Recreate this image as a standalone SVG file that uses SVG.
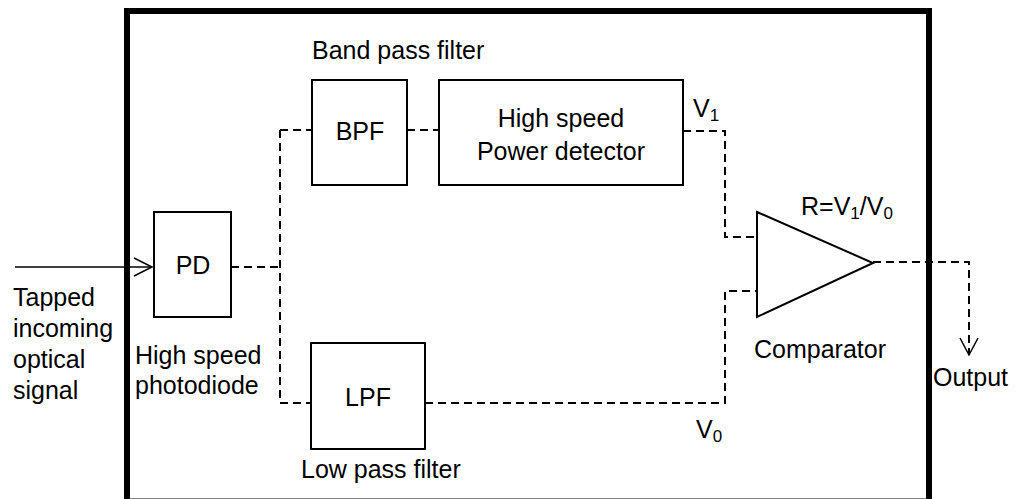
<svg xmlns="http://www.w3.org/2000/svg" width="1019" height="499" viewBox="0 0 1019 499">
<style>
.t{font-family:"Liberation Sans",Arial,sans-serif;font-size:25px;fill:#000}
.s{font-size:17px}
.box{fill:#fff;stroke:#000;stroke-width:2}
.d{fill:none;stroke:#000;stroke-width:2;stroke-dasharray:8 5}
.sol{fill:none;stroke:#000;stroke-width:1.5}
</style>
<rect width="1019" height="499" fill="#fff"/>
<g id="enclosure"><rect x="127" y="11" width="802" height="490.5" fill="none" stroke="#000" stroke-width="6"/></g>
<g id="connectors">
<path class="d" d="M231,267 H280 M280,130 V403 M280,130 H312 M280,403 H311 M407,130 H439 M683,131 H725 V237 H757 M425,403 H725 V291 H757 M873,262 H969 V354"/>
<path class="sol" d="M15,267 H152"/>
<path class="sol" d="M134,258 L152,267 L134,276"/>
<path class="sol" d="M960,338 L969,355 L978,338"/>
</g>
<g id="pd"><rect class="box" x="154" y="212" width="77" height="105"/><text class="t" x="193" y="274" text-anchor="middle">PD</text></g>
<g id="bpf"><rect class="box" x="312" y="80" width="95" height="105"/><text class="t" x="360" y="140" text-anchor="middle">BPF</text></g>
<g id="hspd"><rect class="box" x="439" y="80" width="244" height="105"/><text class="t" x="561" y="127" text-anchor="middle">High speed</text><text class="t" x="561" y="160" text-anchor="middle">Power detector</text></g>
<g id="lpf"><rect class="box" x="311" y="343" width="114" height="106"/><text class="t" x="368" y="406" text-anchor="middle">LPF</text></g>
<g id="comparator"><path class="box" d="M757,212 L873,263 L757,317 Z"/></g>
<g id="labels">
<text class="t" x="312" y="59">Band pass filter</text>
<text class="t" x="693" y="117">V<tspan class="s" dy="4">1</tspan></text>
<text class="t" x="696" y="438">V<tspan class="s" dy="4">0</tspan></text>
<text class="t" x="801" y="215">R=V<tspan class="s" dy="4">1</tspan><tspan dy="-4">/V</tspan><tspan class="s" dy="4">0</tspan></text>
<text class="t" x="754" y="358">Comparator</text>
<text class="t" x="933" y="386">Output</text>
<text class="t" x="301" y="478">Low pass filter</text>
<text class="t" x="135" y="364">High speed</text>
<text class="t" x="135" y="394">photodiode</text>
<text class="t" x="13" y="306">Tapped</text>
<text class="t" x="13" y="337">incoming</text>
<text class="t" x="13" y="368">optical</text>
<text class="t" x="13" y="399">signal</text>
</g>
</svg>
